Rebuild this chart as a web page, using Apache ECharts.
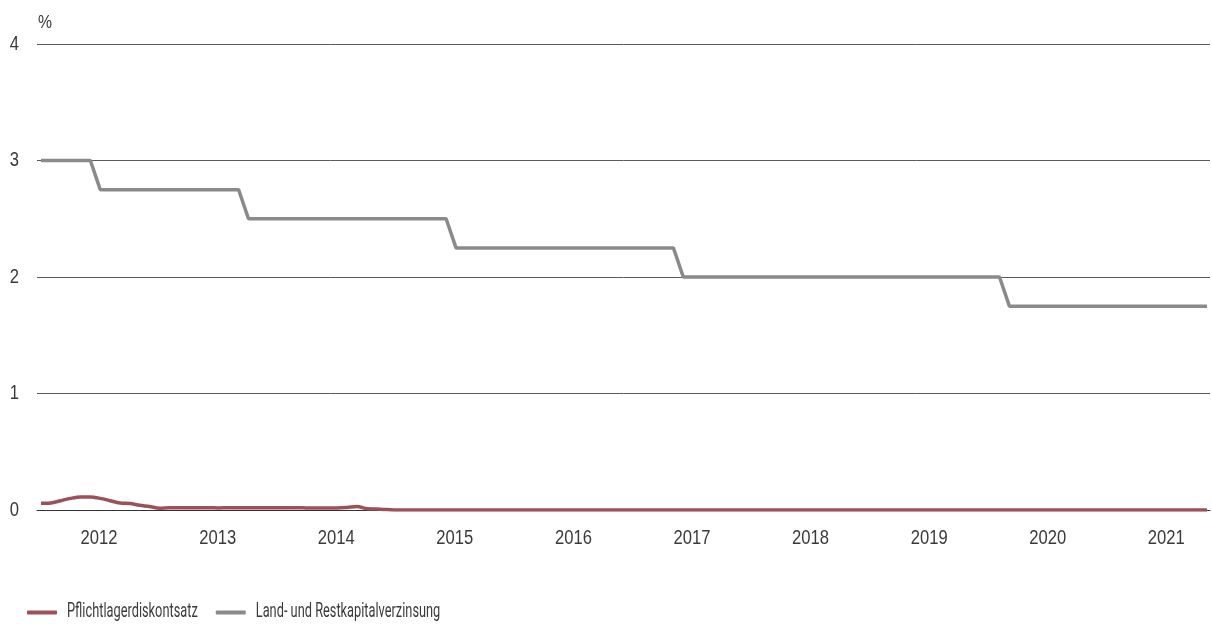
<!DOCTYPE html>
<html>
<head>
<meta charset="utf-8">
<title>Zinssätze</title>
<script src="https://cdn.jsdelivr.net/npm/echarts@6/dist/echarts.min.js"></script>
<style>
  html, body { margin: 0; padding: 0; background: #fff; }
  #chart { width: 1212px; height: 624px; }
</style>
</head>
<body>
<div id="chart"></div>
<script>
// Monthly series, January 2012 to November 2021 (one row per year)
const startYear = 2012;
const yearLabels = ['2012', '2013', '2014', '2015', '2016', '2017', '2018', '2019', '2020', '2021'];
const seriesNames = ['Pflichtlagerdiskontsatz', 'Land- und Restkapitalverzinsung'];

const pflichtlager = [
  0.057, 0.06, 0.08, 0.10, 0.112, 0.112, 0.10, 0.08, 0.06, 0.055, 0.04, 0.03,
  0.015, 0.02, 0.02, 0.02, 0.02, 0.02, 0.018, 0.02, 0.02, 0.02, 0.02, 0.02,
  0.02, 0.02, 0.02, 0.017, 0.017, 0.017, 0.017, 0.022, 0.03, 0.01, 0.008, 0.004,
  0, 0, 0, 0, 0, 0, 0, 0, 0, 0, 0, 0,
  0, 0, 0, 0, 0, 0, 0, 0, 0, 0, 0, 0,
  0, 0, 0, 0, 0, 0, 0, 0, 0, 0, 0, 0,
  0, 0, 0, 0, 0, 0, 0, 0, 0, 0, 0, 0,
  0, 0, 0, 0, 0, 0, 0, 0, 0, 0, 0, 0,
  0, 0, 0, 0, 0, 0, 0, 0, 0, 0, 0, 0,
  0, 0, 0, 0, 0, 0, 0, 0, 0, 0, 0
];

const landRest = [
  3, 3, 3, 3, 3, 3, 2.75, 2.75, 2.75, 2.75, 2.75, 2.75,
  2.75, 2.75, 2.75, 2.75, 2.75, 2.75, 2.75, 2.75, 2.75, 2.5, 2.5, 2.5,
  2.5, 2.5, 2.5, 2.5, 2.5, 2.5, 2.5, 2.5, 2.5, 2.5, 2.5, 2.5,
  2.5, 2.5, 2.5, 2.5, 2.5, 2.5, 2.25, 2.25, 2.25, 2.25, 2.25, 2.25,
  2.25, 2.25, 2.25, 2.25, 2.25, 2.25, 2.25, 2.25, 2.25, 2.25, 2.25, 2.25,
  2.25, 2.25, 2.25, 2.25, 2.25, 2, 2, 2, 2, 2, 2, 2,
  2, 2, 2, 2, 2, 2, 2, 2, 2, 2, 2, 2,
  2, 2, 2, 2, 2, 2, 2, 2, 2, 2, 2, 2,
  2, 2, 1.75, 1.75, 1.75, 1.75, 1.75, 1.75, 1.75, 1.75, 1.75, 1.75,
  1.75, 1.75, 1.75, 1.75, 1.75, 1.75, 1.75, 1.75, 1.75, 1.75, 1.75
];

// month index -> fractional year on the x axis
const toPoints = arr => arr.map((v, i) => [startYear + i / 12, v]);

// Condensed lettering: no condensed face is installed, so text drawn in these
// families is narrowed horizontally (measurement is scaled the same way so
// ECharts lays labels out with the narrowed widths).
const FONT_AXIS = '"Liberation Sans", sans-serif';
const FONT_LEGEND = 'Roboto, sans-serif';
(function () {
  const proto = CanvasRenderingContext2D.prototype;
  const origFill = proto.fillText;
  const origStroke = proto.strokeText;
  const origMeasure = proto.measureText;
  function widthScale(font) {
    if (!font) return 1;
    if (font.indexOf('Roboto') >= 0) return 0.64;
    if (font.indexOf('Liberation Sans') >= 0) return 0.83;
    return 1;
  }
  function drawScaled(orig) {
    return function (text, x, y, maxWidth) {
      const s = widthScale(this.font);
      if (s === 1) {
        return maxWidth === undefined ? orig.call(this, text, x, y) : orig.call(this, text, x, y, maxWidth);
      }
      this.save();
      this.translate(x, y);
      this.scale(s, 1);
      if (maxWidth === undefined) orig.call(this, text, 0, 0);
      else orig.call(this, text, 0, 0, maxWidth / s);
      this.restore();
    };
  }
  proto.fillText = drawScaled(origFill);
  proto.strokeText = drawScaled(origStroke);
  proto.measureText = function (text) {
    const m = origMeasure.call(this, text);
    const s = widthScale(this.font);
    if (s === 1) return m;
    return {
      width: m.width * s,
      actualBoundingBoxLeft: m.actualBoundingBoxLeft * s,
      actualBoundingBoxRight: m.actualBoundingBoxRight * s,
      actualBoundingBoxAscent: m.actualBoundingBoxAscent,
      actualBoundingBoxDescent: m.actualBoundingBoxDescent,
      fontBoundingBoxAscent: m.fontBoundingBoxAscent,
      fontBoundingBoxDescent: m.fontBoundingBoxDescent
    };
  };
})();

const TEXT = '#3a3a3a';

const chart = echarts.init(document.getElementById('chart'), null, { renderer: 'canvas' });

chart.setOption({
  animation: false,
  backgroundColor: '#ffffff',
  grid: { left: 37, right: 2, top: 44, bottom: 114, containLabel: false },
  xAxis: {
    type: 'value',
    min: startYear - 0.4 / 12,
    max: startYear + 118.3 / 12,
    axisLine: { show: true, lineStyle: { color: '#333333', width: 1 } },
    axisTick: { show: false },
    splitLine: { show: false },
    axisLabel: {
      customValues: yearLabels.map(y => Number(y) + 0.49),
      formatter: v => String(Math.floor(v)),
      color: TEXT,
      fontFamily: FONT_AXIS,
      fontSize: 20,
      margin: 20
    }
  },
  yAxis: {
    type: 'value',
    min: 0,
    max: 4,
    interval: 1,
    name: '%',
    nameLocation: 'end',
    nameGap: 13,
    nameTextStyle: { align: 'left', color: TEXT, fontFamily: FONT_AXIS, fontSize: 19, padding: [0, 0, 0, 1] },
    axisLine: { show: false },
    axisTick: { show: false },
    axisLabel: { color: TEXT, fontFamily: FONT_AXIS, fontSize: 20, margin: 18 },
    splitLine: { show: true, lineStyle: { color: '#5a5a5a', width: 1 } }
  },
  legend: {
    left: 27,
    top: 606,
    padding: 0,
    itemWidth: 30,
    itemHeight: 4,
    itemGap: 18,
    icon: 'roundRect',
    textStyle: { color: TEXT, fontFamily: FONT_LEGEND, fontSize: 20, padding: [0, 0, 0, 5] },
    data: seriesNames
  },
  series: [
    {
      name: seriesNames[0],
      type: 'line',
      data: toPoints(pflichtlager),
      showSymbol: false,
      smooth: 0.3,
      color: '#9c5159',
      lineStyle: { width: 3.5, color: '#9c5159' },
      z: 2
    },
    {
      name: seriesNames[1],
      type: 'line',
      data: toPoints(landRest),
      showSymbol: false,
      color: '#8a8a8c',
      lineStyle: { width: 3.5, color: '#8a8a8c' },
      z: 3
    }
  ]
});
</script>
</body>
</html>
